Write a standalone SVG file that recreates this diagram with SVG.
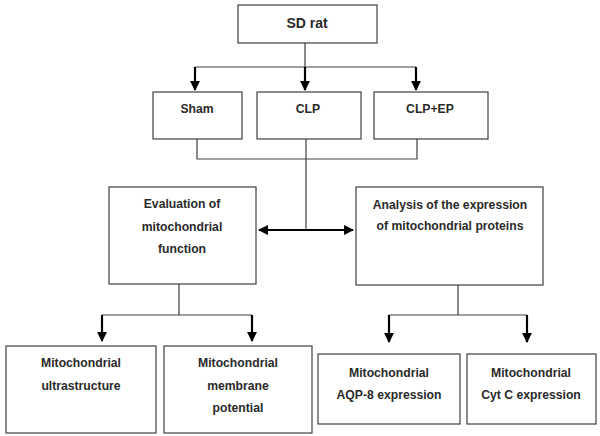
<svg xmlns="http://www.w3.org/2000/svg" width="600" height="436" viewBox="0 0 600 436">
<defs>
<marker id="ah" viewBox="0 0 10 10" refX="9" refY="5" markerWidth="4.5" markerHeight="4.5" markerUnits="strokeWidth" orient="auto-start-reverse">
<path d="M0,0 L10,5 L0,10 z" fill="#000"/>
</marker>
<style>
.box{fill:#fff;stroke:#404040;stroke-width:1.2}
.t{font-family:"Liberation Sans",Arial,sans-serif;font-weight:bold;font-size:12.2px;fill:#2a2a2a;text-anchor:middle}
.ln{fill:none;stroke:#404040;stroke-width:1.2}
.ar{fill:none;stroke:#000;stroke-width:2.2;marker-end:url(#ah)}
.ar2{fill:none;stroke:#000;stroke-width:2.2;marker-end:url(#ah);marker-start:url(#ah)}
</style>
</defs>
<rect width="600" height="436" fill="#fff"/>
<g id="connectors">
<path class="ln" d="M305,43 V67 M195,67 H416"/>
<path class="ar" d="M195,67 V90"/>
<path class="ar" d="M305,67 V90"/>
<path class="ar" d="M416,67 V90"/>
<path class="ln" d="M197,139 V159 H417 V139 M306,139 V230"/>
<path class="ar2" d="M259,230 H353"/>
<path class="ln" d="M179,284 V315 M102,315 H252"/>
<path class="ar" d="M102,315 V341"/>
<path class="ar" d="M252,315 V341"/>
<path class="ln" d="M458,285 V315 M389,315 H527"/>
<path class="ar" d="M389,315 V342"/>
<path class="ar" d="M527,315 V342"/>
</g>
<g id="sdrat"><rect class="box" x="238" y="5" width="139" height="38"/><text class="t" x="307" y="28" style="font-size:14px">SD rat</text></g>
<g id="sham"><rect class="box" x="153" y="92" width="89" height="47"/><text class="t" x="197" y="113">Sham</text></g>
<g id="clp"><rect class="box" x="257" y="92" width="104" height="47"/><text class="t" x="308" y="113">CLP</text></g>
<g id="clpep"><rect class="box" x="374" y="92" width="114" height="47"/><text class="t" x="430" y="113">CLP+EP</text></g>
<g id="eval"><rect class="box" x="109" y="187" width="147" height="97"/>
<text class="t" x="182" y="208">Evaluation of</text>
<text class="t" x="182" y="231">mitochondrial</text>
<text class="t" x="182" y="253">function</text></g>
<g id="analysis"><rect class="box" x="356" y="187" width="187" height="98"/>
<text class="t" x="450" y="209">Analysis of the expression</text>
<text class="t" x="450" y="230">of mitochondrial proteins</text></g>
<g id="ultra"><rect class="box" x="6" y="346" width="150" height="87"/>
<text class="t" x="81" y="367">Mitochondrial</text>
<text class="t" x="81" y="390">ultrastructure</text></g>
<g id="membrane"><rect class="box" x="164" y="346" width="148" height="87"/>
<text class="t" x="238" y="367">Mitochondrial</text>
<text class="t" x="238" y="390">membrane</text>
<text class="t" x="238" y="412">potential</text></g>
<g id="aqp"><rect class="box" x="318" y="354" width="142" height="70"/>
<text class="t" x="389" y="377">Mitochondrial</text>
<text class="t" x="389" y="399">AQP-8 expression</text></g>
<g id="cytc"><rect class="box" x="467" y="354" width="129" height="70"/>
<text class="t" x="531" y="377">Mitochondrial</text>
<text class="t" x="531" y="399">Cyt C expression</text></g>
</svg>
